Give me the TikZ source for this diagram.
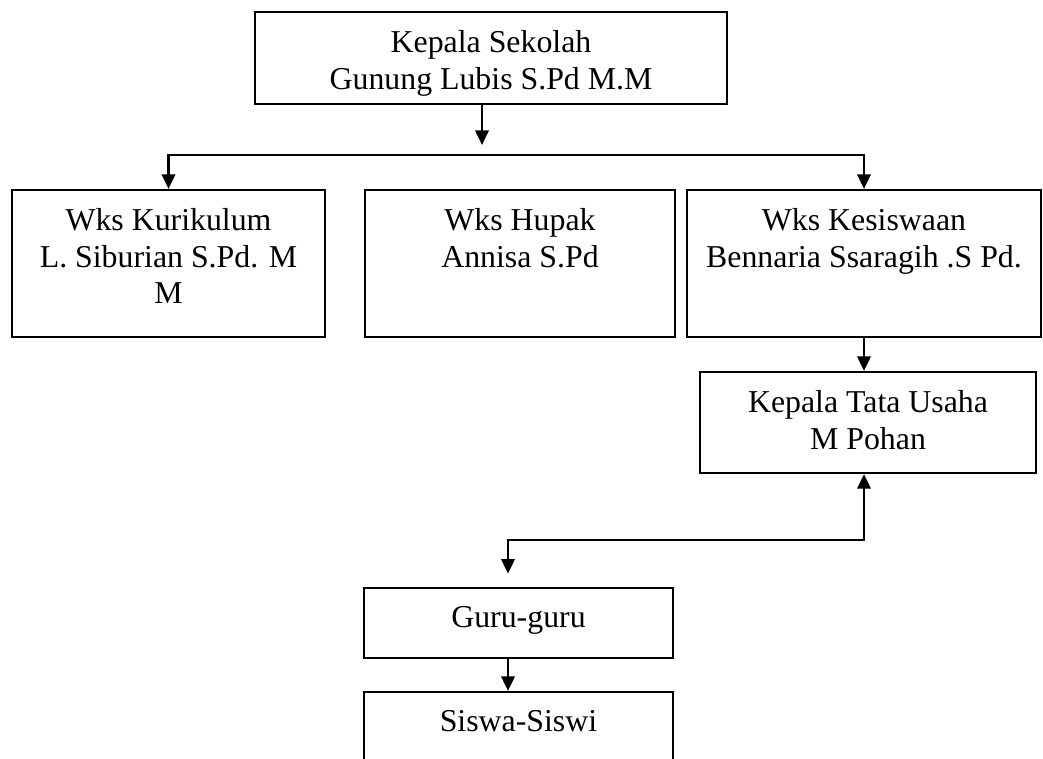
\documentclass[tikz,border=0pt]{standalone}
\usepackage{fontspec}
\setmainfont{Liberation Serif}
\usetikzlibrary{positioning,arrows.meta}

\tikzstyle{unit}=[draw,line width=0.8pt,inner sep=0pt]
\tikzstyle{caption}=[align=center,inner sep=0pt,font=\fontsize{12}{13.8}\selectfont]
\tikzstyle{edge}=[draw,line width=1pt,-{Triangle[length=5.5pt,width=5pt]}]
\tikzstyle{both edge}=[draw,line width=1pt,{Triangle[length=5.5pt,width=5pt]}-{Triangle[length=5.5pt,width=5pt]}]

\begin{document}
\begin{tikzpicture}[x=0.377pt,y=-0.377pt]
\path[use as bounding box,clip] (0,0) rectangle (1043,758);
\foreach \pos/\w/\h/\name in {{(491,58)/472/92/kepsek}, {(168.5,263.5)/313/147/kurikulum},
                              {(520,263.5)/310/147/hupak}, {(864,263.5)/354/147/kesiswaan},
                              {(868,422.5)/336/101/tatausaha}, {(518.5,623)/309/70/guru},
                              {(518.5,731)/309/78/siswa}}{
  \node[unit,minimum width=\w*0.377pt,minimum height=\h*0.377pt] (\name) at \pos {};
}
\foreach \name/\text in {kepsek/{Kepala Sekolah\\Gunung Lubis S.Pd M.M},
                         kurikulum/{Wks Kurikulum\\L. Siburian S.Pd. M\\M},
                         hupak/{Wks Hupak\\Annisa S.Pd},
                         kesiswaan/{Wks Kesiswaan\\Bennaria Ssaragih .S Pd.},
                         tatausaha/{Kepala Tata Usaha\\M Pohan},
                         guru/{Guru-guru}, siswa/{Siswa-Siswi}}{
  \node[caption,below=7.2pt of \name.north] (\name-text) {\text};
}
\coordinate (split) at (482,145);
\coordinate (bar) at (482,155);
\coordinate (join) at (864,540);
\coordinate (drop) at (508,540);
\path[edge] (kepsek.south -| split) -- (split);
\path[both edge] (kurikulum.north) -- (kurikulum.north |- bar) -- (kesiswaan.north |- bar) -- (kesiswaan.north);
\path[edge] (kesiswaan.south) -- (kesiswaan.south |- tatausaha.north);
\path[both edge,shorten >=5pt] (tatausaha.south -| join) -- (join) -- (drop) -- (drop |- guru.north);
\path[edge] (guru.south -| drop) -- (siswa.north -| drop);
\end{tikzpicture}
\end{document}
